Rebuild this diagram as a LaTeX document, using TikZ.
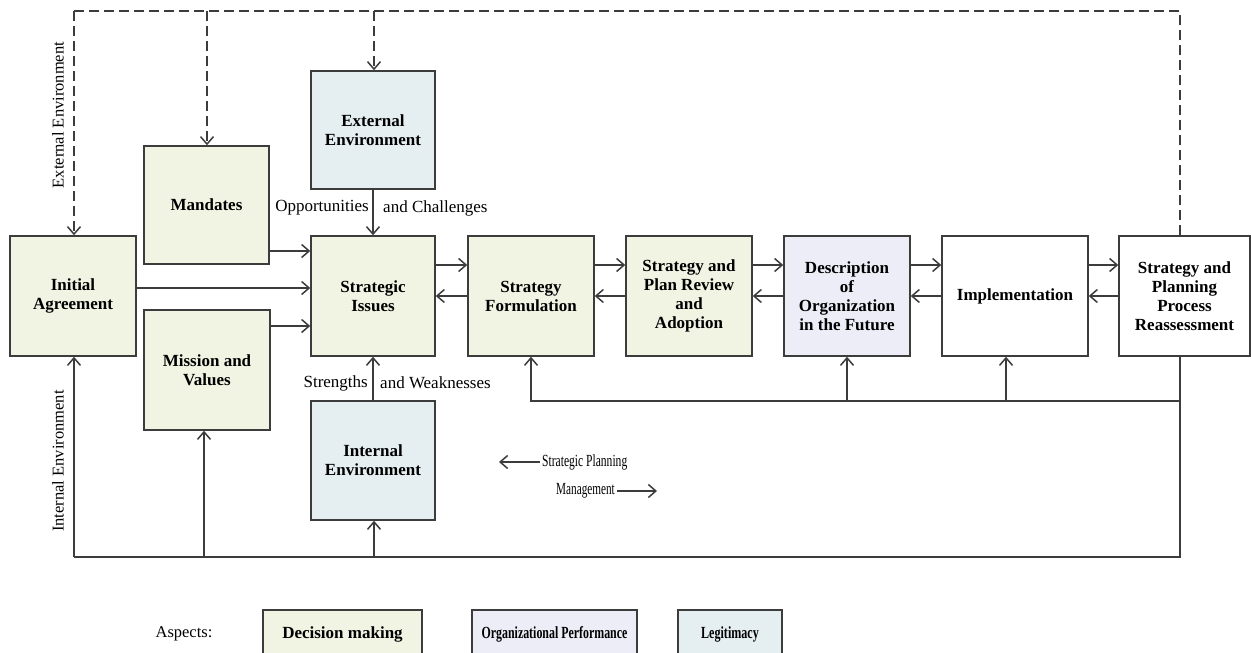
\documentclass[tikz,border=0pt]{standalone}
\usepackage{fontspec}
\setmainfont{Liberation Serif}
\usetikzlibrary{arrows.meta}
\definecolor{ln}{HTML}{3C3C3C}
\definecolor{dmfill}{HTML}{F1F4E3}
\definecolor{opfill}{HTML}{EDEDF7}
\definecolor{lgfill}{HTML}{E5EFF1}
\begin{document}
\begin{tikzpicture}[x=1pt,y=-1pt,
  box/.style={draw=ln, line width=1.5pt, rectangle, align=center, inner sep=2pt,
    font=\fontsize{17}{19}\selectfont\bfseries},
  conn/.style={draw=ln, line width=1.5pt, -{Straight Barb[length=7.5pt,width=13pt]}},
  plain/.style={draw=ln, line width=1.5pt},
  dashline/.style={draw=ln, line width=1.5pt, dash pattern=on 10pt off 5pt},
  lbl/.style={inner sep=0pt, font=\fontsize{17}{19}\selectfont},
  small/.style={inner sep=2pt, font=\fontsize{16.5}{19}\selectfont}
]
\useasboundingbox (0,0) rectangle (1251,653);
\fill[white] (0,0) rectangle (1251,653);

% main boxes
\node[box, fill=dmfill, minimum width=126pt, minimum height=120pt] (ia) at (73,296) {Initial\\Agreement};
\node[box, fill=dmfill, minimum width=125pt, minimum height=118pt] (man) at (206.5,205) {Mandates};
\node[box, fill=lgfill, minimum width=124pt, minimum height=118pt] (ee) at (373,130) {External\\Environment};
\node[box, fill=dmfill, minimum width=124pt, minimum height=120pt] (si) at (373,296) {Strategic\\Issues};
\node[box, fill=dmfill, minimum width=126pt, minimum height=120pt] (mv) at (207,370) {Mission and\\Values};
\node[box, fill=lgfill, minimum width=124pt, minimum height=119pt] (ie) at (373,460.5) {Internal\\Environment};
\node[box, fill=dmfill, minimum width=126pt, minimum height=120pt] (sf) at (531,296) {Strategy\\Formulation};
\node[box, fill=dmfill, minimum width=126pt, minimum height=120pt] (rev) at (689,296) {Strategy and\\Plan Review\\and\\Adoption};
\node[box, fill=opfill, minimum width=126pt, minimum height=120pt] (desc) at (847,296) {Description\\of\\Organization\\in the Future};
\node[box, fill=white, minimum width=146pt, minimum height=120pt] (impl) at (1015,296) {Implementation};
\node[box, fill=white, minimum width=131pt, minimum height=120pt] (rea) at (1184.5,296) {Strategy and\\Planning\\Process\\Reassessment};

% helper y-levels
\coordinate (yF) at (0,265);
\coordinate (yB) at (0,296);
\coordinate (yM) at (0,251);
\coordinate (yI) at (0,288);
\coordinate (yV) at (0,326);

% inputs to strategic issues
\draw[conn] (man.east |- yM) -- (si.west |- yM);
\draw[conn] (ia.east |- yI) -- (si.west |- yI);
\draw[conn] (mv.east |- yV) -- (si.west |- yV);
\draw[conn] (ee.south) -- (si.north);
\draw[conn] (ie.north) -- (si.south);

% chain
\draw[conn] (si.east |- yF) -- (sf.west |- yF);
\draw[conn] (sf.west |- yB) -- (si.east |- yB);
\draw[conn] (sf.east |- yF) -- (rev.west |- yF);
\draw[conn] (rev.west |- yB) -- (sf.east |- yB);
\draw[conn] (rev.east |- yF) -- (desc.west |- yF);
\draw[conn] (desc.west |- yB) -- (rev.east |- yB);
\draw[conn] (desc.east |- yF) -- (impl.west |- yF);
\draw[conn] (impl.west |- yB) -- (desc.east |- yB);
\draw[conn] (impl.east |- yF) -- (rea.west |- yF);
\draw[conn] (rea.west |- yB) -- (impl.east |- yB);

% dashed external environment loop
\coordinate (tr) at (1180,11);
\coordinate (tl) at (74,11);
\coordinate (tm) at (207,11);
\coordinate (te) at (374,11);
\draw[dashline] (rea.north -| tr) -- (tr) -- (tl);
\draw[dashline, -{Straight Barb[length=7.5pt,width=13pt]}] (tl) -- (ia.north -| tl);
\draw[dashline, -{Straight Barb[length=7.5pt,width=13pt]}] (tm) -- (man.north -| tm);
\draw[dashline, -{Straight Barb[length=7.5pt,width=13pt]}] (te) -- (ee.north -| te);

% feedback line
\coordinate (fr) at (1180,401);
\coordinate (fl) at (531,401);
\coordinate (fd) at (847,401);
\coordinate (fi) at (1006,401);
\draw[conn] (fr) -- (fl) -- (sf.south -| fl);
\draw[conn] (fd) -- (desc.south -| fd);
\draw[conn] (fi) -- (impl.south -| fi);

% internal environment loop
\coordinate (br) at (1180,557);
\coordinate (bl) at (74,557);
\coordinate (bm) at (204,557);
\coordinate (bi) at (374,557);
\draw[plain] (rea.south -| br) -- (br) -- (bl);
\draw[conn] (bl) -- (ia.south -| bl);
\draw[conn] (bm) -- (mv.south -| bm);
\draw[conn] (bi) -- (ie.south -| bi);

% labels
\node[lbl, anchor=east] (opp) at (369,208) {Opportunities};
\node[lbl, anchor=west] (chal) at (383,208) {and Challenges};
\node[lbl, anchor=east] (str) at (368,383) {Strengths};
\node[lbl, anchor=west] (weak) at (380,383) {and Weaknesses};
\node[small, rotate=90] (extl) at (58,115) {External Environment};
\node[small, rotate=90] (intl) at (58,461) {Internal Environment};

% strategic planning / management
\node[small, anchor=west, font=\fontsize{17}{19}\selectfont] (spl) at (540,462) {\scalebox{0.68}[1]{Strategic Planning}};
\coordinate (spa) at (499,462);
\draw[conn] (spl.west) -- (spa);
\node[small, font=\fontsize{17}{19}\selectfont] (mg) at (585.5,491) {\scalebox{0.66}[1]{Management}};
\coordinate (mga) at (657,491);
\draw[conn] (mg.east) -- (mga);

% legend
\node[lbl, font=\fontsize{16.5}{19}\selectfont] (asp) at (184,634) {Aspects:};
\node[box, fill=dmfill, minimum width=159pt, minimum height=48pt] (lgdm) at (342.5,634) {Decision making};
\node[box, fill=opfill, minimum width=165pt, minimum height=48pt] (lgop) at (554.5,634) {\scalebox{0.7}[1]{Organizational Performance}};
\node[box, fill=lgfill, minimum width=104pt, minimum height=48pt] (lglg) at (730,634) {\scalebox{0.71}[1]{Legitimacy}};
\end{tikzpicture}
\end{document}
